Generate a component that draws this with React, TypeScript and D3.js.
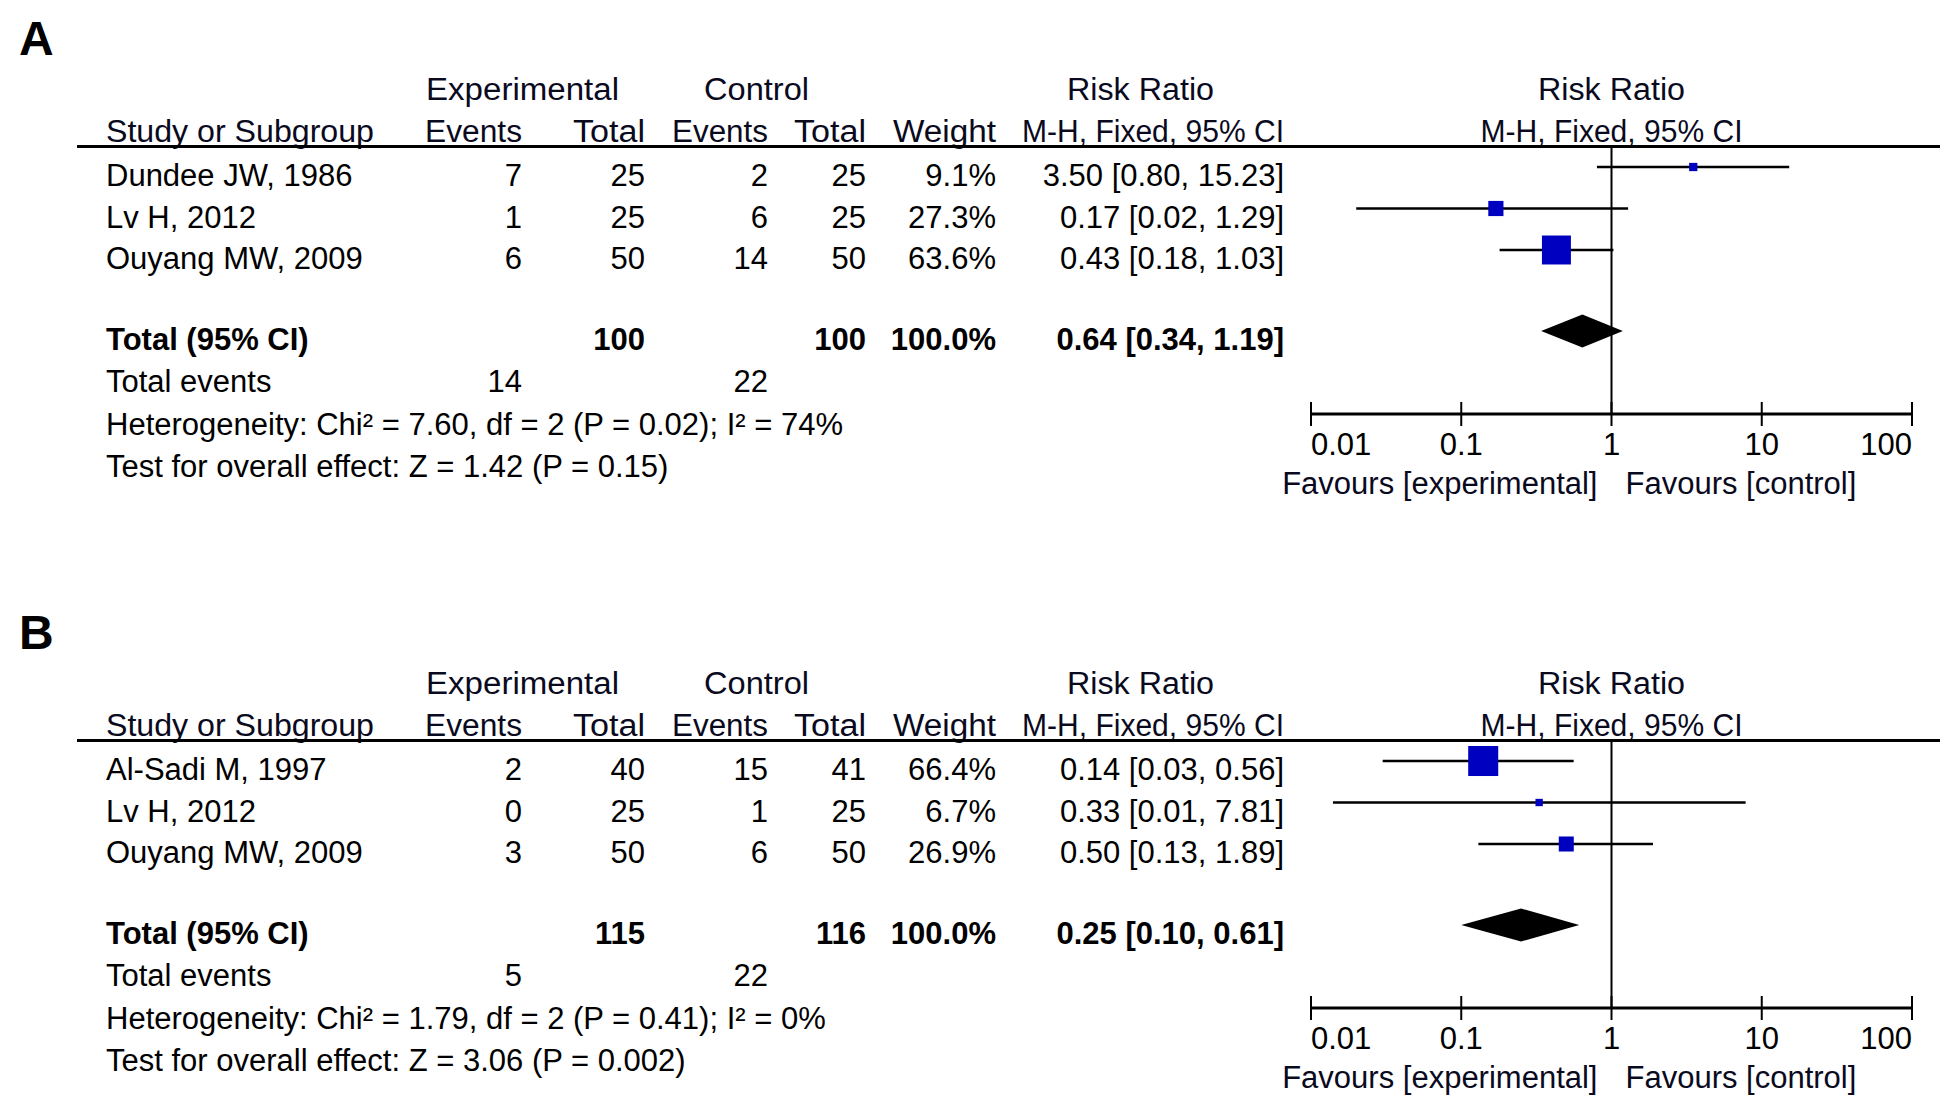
import React from "react";
import * as d3 from "d3";

// ---------- data ----------
const panelLabels = ["A", "B"];

const studiesA = ["Dundee JW, 1986", "Lv H, 2012", "Ouyang MW, 2009"];
const expEventsA = [7, 1, 6];
const expTotalA = [25, 25, 50];
const ctrlEventsA = [2, 6, 14];
const ctrlTotalA = [25, 25, 50];
const weightA = [9.1, 27.3, 63.6];
const rrA = [3.5, 0.17, 0.43];
const lowerA = [0.8, 0.02, 0.18];
const upperA = [15.23, 1.29, 1.03];
const pooledA = [0.64, 0.34, 1.19];
const totalsA = [100, 100];
const totalEventsA = [14, 22];
const heterogeneityA = "Heterogeneity: Chi² = 7.60, df = 2 (P = 0.02); I² = 74%";
const overallA = "Test for overall effect: Z = 1.42 (P = 0.15)";

const studiesB = ["Al-Sadi M, 1997", "Lv H, 2012", "Ouyang MW, 2009"];
const expEventsB = [2, 0, 3];
const expTotalB = [40, 25, 50];
const ctrlEventsB = [15, 1, 6];
const ctrlTotalB = [41, 25, 50];
const weightB = [66.4, 6.7, 26.9];
const rrB = [0.14, 0.33, 0.5];
const lowerB = [0.03, 0.014, 0.13];
const upperB = [0.56, 7.81, 1.89];
const pooledB = [0.25, 0.1, 0.61];
const totalsB = [115, 116];
const totalEventsB = [5, 22];
const heterogeneityB = "Heterogeneity: Chi² = 1.79, df = 2 (P = 0.41); I² = 0%";
const overallB = "Test for overall effect: Z = 3.06 (P = 0.002)";

const tickValues = [0.01, 0.1, 1, 10, 100];
const tickLabels = ["0.01", "0.1", "1", "10", "100"];
const favoursLeft = "Favours [experimental]";
const favoursRight = "Favours [control]";

const panels = [
  {
    label: panelLabels[0], studies: studiesA, expEvents: expEventsA, expTotal: expTotalA,
    ctrlEvents: ctrlEventsA, ctrlTotal: ctrlTotalA, weight: weightA, rr: rrA, lower: lowerA,
    upper: upperA, pooled: pooledA, totals: totalsA, totalEvents: totalEventsA,
    het: heterogeneityA, overall: overallA,
  },
  {
    label: panelLabels[1], studies: studiesB, expEvents: expEventsB, expTotal: expTotalB,
    ctrlEvents: ctrlEventsB, ctrlTotal: ctrlTotalB, weight: weightB, rr: rrB, lower: lowerB,
    upper: upperB, pooled: pooledB, totals: totalsB, totalEvents: totalEventsB,
    het: heterogeneityB, overall: overallB,
  },
];

// ---------- layout ----------
const W = 1960;
const H = 1113;
const PANEL_OFFSET = 594;
const FONT = "'Liberation Sans', Arial, sans-serif";
const FS = 31;

const x = d3.scaleLog().domain([0.01, 100]).range([1311, 1912]);
const rowY = d3.scaleLinear().domain([0, 1]).range([167, 208.5]);
const sq = d3.scaleLinear().domain([0, 100]).range([4.8, 42.8]);
const f2 = d3.format(".2f");
const f1 = d3.format(".1f");

const col = { study: 106, expEv: 522, expTot: 645, ctrlEv: 768, ctrlTot: 866, weight: 996, ci: 1284 };

function ciText(r: number, lo: number, hi: number) {
  return `${f2(r)} [${f2(lo)}, ${f2(hi)}]`;
}

function Panel({ p, oy }: { p: any; oy: number }) {
  const dY = 19; // text baseline below marker centre
  const totalY = 331;
  const axisY = 414;
  const t = (props: any, s: any) => (
    <text fontFamily={FONT} fontSize={FS} fill="#000" {...props}>{s}</text>
  );
  const hd = (props: any, s: any, len: number) =>
    t({ ...props, textLength: len, lengthAdjust: "spacingAndGlyphs", fill: "#0a0a1e" }, s);
  const [pr, plo, phi] = p.pooled;
  return (
    <g transform={`translate(0,${oy})`}>
      <text x={19} y={55} fontFamily={FONT} fontSize={48} fontWeight="bold" fill="#000">{p.label}</text>
      {/* headers */}
      {hd({ x: 426, y: 100 }, "Experimental", 193)}
      {hd({ x: 704, y: 100 }, "Control", 105)}
      {hd({ x: 1067, y: 100 }, "Risk Ratio", 147)}
      {hd({ x: x(1) - 73.5, y: 100 }, "Risk Ratio", 147)}
      {hd({ x: col.study, y: 142 }, "Study or Subgroup", 268)}
      {hd({ x: col.expEv - 97, y: 142 }, "Events", 97)}
      {hd({ x: col.expTot - 72, y: 142 }, "Total", 72)}
      {hd({ x: col.ctrlEv - 96, y: 142 }, "Events", 96)}
      {hd({ x: col.ctrlTot - 72, y: 142 }, "Total", 72)}
      {hd({ x: col.weight - 103, y: 142 }, "Weight", 103)}
      {hd({ x: col.ci - 262, y: 142 }, "M-H, Fixed, 95% CI", 262)}
      {hd({ x: x(1) - 131, y: 142 }, "M-H, Fixed, 95% CI", 262)}
      <line x1={77} x2={1940} y1={146.5} y2={146.5} stroke="#000" strokeWidth={3} />
      {/* vertical line at 1 */}
      <line x1={x(1)} x2={x(1)} y1={146} y2={axisY} stroke="#000" strokeWidth={2} />
      {/* study rows */}
      {p.studies.map((s: string, i: number) => {
        const cy = rowY(i);
        const by = cy + dY;
        const side = sq(p.weight[i]);
        return (
          <g key={i}>
            {t({ x: col.study, y: by }, s)}
            {t({ x: col.expEv, y: by, textAnchor: "end" }, p.expEvents[i])}
            {t({ x: col.expTot, y: by, textAnchor: "end" }, p.expTotal[i])}
            {t({ x: col.ctrlEv, y: by, textAnchor: "end" }, p.ctrlEvents[i])}
            {t({ x: col.ctrlTot, y: by, textAnchor: "end" }, p.ctrlTotal[i])}
            {t({ x: col.weight, y: by, textAnchor: "end" }, f1(p.weight[i]) + "%")}
            {t({ x: col.ci, y: by, textAnchor: "end" }, ciText(p.rr[i], p.lower[i], p.upper[i]))}
            <line x1={x(p.lower[i])} x2={x(p.upper[i])} y1={cy} y2={cy} stroke="#000" strokeWidth={2.5} />
            <rect x={x(p.rr[i]) - side / 2} y={cy - side / 2} width={side} height={side} fill="#0000c0" />
          </g>
        );
      })}
      {/* total row */}
      {t({ x: col.study, y: totalY + dY, fontWeight: "bold" }, "Total (95% CI)")}
      {t({ x: col.expTot, y: totalY + dY, textAnchor: "end", fontWeight: "bold" }, p.totals[0])}
      {t({ x: col.ctrlTot, y: totalY + dY, textAnchor: "end", fontWeight: "bold" }, p.totals[1])}
      {t({ x: col.weight, y: totalY + dY, textAnchor: "end", fontWeight: "bold" }, "100.0%")}
      {t({ x: col.ci, y: totalY + dY, textAnchor: "end", fontWeight: "bold" }, ciText(pr, plo, phi))}
      <path
        d={`M${x(plo)},${totalY} L${x(pr)},${totalY - 16.5} L${x(phi)},${totalY} L${x(pr)},${totalY + 16.5} Z`}
        fill="#000"
      />
      {t({ x: col.study, y: 392 }, "Total events")}
      {t({ x: col.expEv, y: 392, textAnchor: "end" }, p.totalEvents[0])}
      {t({ x: col.ctrlEv, y: 392, textAnchor: "end" }, p.totalEvents[1])}
      {t({ x: col.study, y: 435 }, p.het)}
      {t({ x: col.study, y: 477 }, p.overall)}
      {/* axis */}
      <line x1={x(0.01)} x2={x(100)} y1={axisY} y2={axisY} stroke="#000" strokeWidth={3} />
      {tickValues.map((v, i) => (
        <g key={v}>
          <line x1={x(v)} x2={x(v)} y1={axisY - 12} y2={axisY + 12} stroke="#000" strokeWidth={2} />
          {t(
            {
              x: x(v),
              y: 455,
              textAnchor: i === 0 ? "start" : i === tickValues.length - 1 ? "end" : "middle",
            },
            tickLabels[i]
          )}
        </g>
      ))}
      {t({ x: x(1) - 14, y: 494, textAnchor: "end", fill: "#0a0a1e" }, favoursLeft)}
      {t({ x: x(1) + 14, y: 494, fill: "#0a0a1e" }, favoursRight)}
    </g>
  );
}

export default function App() {
  return (
    <svg
      width={W}
      height={H}
      viewBox={`0 0 ${W} ${H}`}
      style={{ position: "absolute", left: 0, top: 0, background: "#fff" }}
    >
      <rect width={W} height={H} fill="#fff" />
      {panels.map((p, i) => (
        <Panel key={i} p={p} oy={i * PANEL_OFFSET} />
      ))}
    </svg>
  );
}
